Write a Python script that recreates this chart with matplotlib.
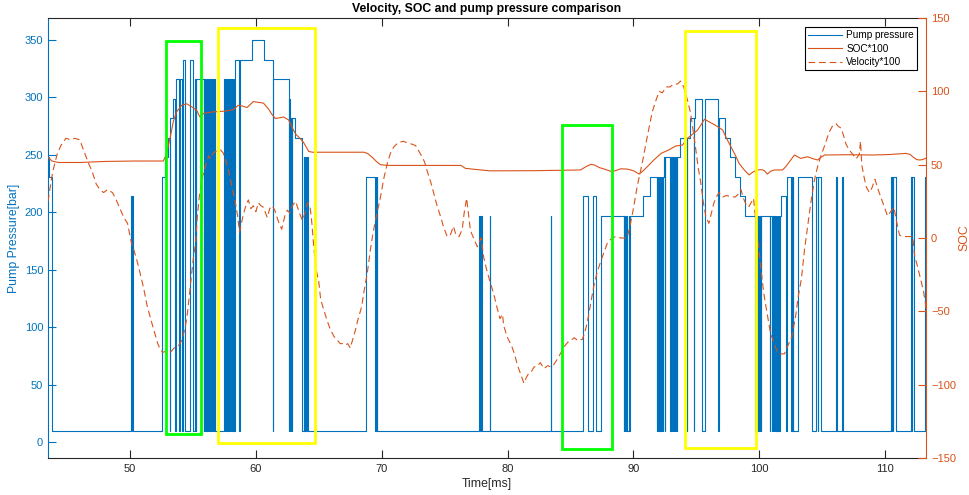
import matplotlib.pyplot as plt
from matplotlib.patches import Rectangle

plt.rcParams['font.family'] = ['Liberation Sans', 'DejaVu Sans']

BLUE = '#0072BD'
ORANGE = '#D95319'
DARK = '#262626'

# pump pressure change points (time ms, bar), drawn as a step signal
pump_steps = [
    (43.40, 248), (43.58, 231), (43.78, 10),
    (50.08, 214), (50.14, 10), (50.18, 214), (50.24, 10),
    (52.57, 231), (52.79, 248), (53.05, 265), (53.17, 10), (53.21, 282),
    (53.42, 299), (53.58, 10), (53.66, 316), (53.92, 10), (53.97, 316),
    (54.12, 10), (54.19, 333), (54.40, 10),
    (54.78, 333), (55.02, 10), (55.18, 316), (55.21, 10), (55.27, 316),
    (55.86, 10), (55.90, 316),
    (55.97, 10), (56.02, 316), (56.07, 10), (56.11, 316), (56.16, 10),
    (56.20, 316), (56.25, 10), (56.30, 316), (56.36, 10), (56.41, 316),
    (56.47, 10), (56.52, 316), (56.58, 10), (56.63, 316), (56.70, 10),
    (56.74, 316), (56.78, 10),
    (57.48, 316), (57.53, 10), (57.57, 316), (57.62, 10), (57.66, 316),
    (57.71, 10), (57.76, 316), (57.81, 10), (57.86, 316), (57.91, 10),
    (57.96, 316), (58.01, 10), (58.06, 316), (58.11, 10), (58.16, 316),
    (58.21, 10), (58.25, 316), (58.30, 10), (58.34, 316),
    (58.37, 333), (58.68, 10), (58.71, 333), (59.68, 350), (60.61, 333),
    (61.33, 10), (61.36, 316),
    (62.60, 10), (62.62, 299), (62.73, 10), (62.76, 282), (62.86, 10),
    (62.89, 282), (63.13, 265), (63.66, 10), (63.80, 248), (63.84, 10),
    (63.87, 248), (63.92, 10), (63.95, 248), (64.00, 10), (64.03, 248),
    (64.11, 10),
    (68.76, 231), (69.48, 10), (69.52, 231), (69.56, 10), (69.59, 231),
    (69.63, 10),
    (77.77, 197), (77.82, 10), (77.86, 197), (77.93, 10), (78.58, 197),
    (78.61, 10), (83.46, 197), (83.49, 10),
    (86.01, 214), (86.38, 10), (86.78, 214), (86.99, 10),
    (87.40, 197), (89.22, 10), (89.26, 197), (89.31, 10), (89.35, 197),
    (89.40, 10), (89.44, 197), (89.50, 10), (89.63, 197), (89.67, 10),
    (89.74, 197),
    (90.80, 214), (91.33, 231), (91.86, 10), (91.90, 231), (91.95, 10),
    (91.99, 231), (92.04, 10), (92.09, 231), (92.14, 10), (92.18, 231),
    (92.23, 10), (92.27, 231), (92.32, 10), (92.36, 231), (92.40, 248),
    (92.52, 10), (92.55, 248),
    (92.93, 10), (92.97, 248), (93.02, 10), (93.06, 248), (93.11, 10),
    (93.15, 248), (93.20, 10), (93.24, 248), (93.29, 10), (93.33, 248),
    (93.38, 10), (93.42, 248), (93.46, 10), (93.49, 248),
    (93.71, 265), (94.26, 10), (94.29, 265), (94.48, 282), (94.78, 10),
    (94.82, 282), (94.91, 299), (95.44, 10), (95.71, 299), (96.74, 10),
    (96.78, 282), (97.30, 265), (97.70, 248), (98.09, 231), (98.49, 214),
    (98.89, 197),
    (99.67, 10), (99.71, 197), (99.76, 10), (99.80, 197), (99.85, 10),
    (99.89, 197), (99.94, 10), (99.98, 197), (100.03, 10), (100.07, 197),
    (100.12, 10), (100.16, 197),
    (100.84, 10), (100.87, 197), (100.98, 10), (101.02, 197), (101.07, 10),
    (101.11, 197), (101.16, 10), (101.20, 197), (101.25, 10), (101.29, 197),
    (101.34, 10), (101.38, 197), (101.43, 10), (101.47, 197), (101.52, 10),
    (101.56, 197), (101.61, 10), (101.65, 197),
    (101.77, 214), (102.16, 10), (102.21, 231), (102.56, 10), (102.59, 231),
    (102.64, 10), (102.67, 231), (102.70, 10),
    (103.10, 231), (104.16, 10), (104.52, 231), (104.67, 10), (104.70, 231),
    (104.90, 10),
    (106.12, 231), (106.15, 10), (106.60, 231), (106.63, 10),
    (110.50, 231), (110.54, 10), (110.57, 231), (110.63, 10), (110.67, 231),
    (110.90, 10),
    (112.10, 231), (112.14, 10), (112.17, 231), (112.34, 10),
    (113.15, 231), (113.18, 10), (113.20, 231), (113.23, 10), (113.25, 231),
]

# SOC*100 (time ms, value)
soc_points = [
    (43.48, 55), (43.8, 52.5), (44.3, 51.5), (46.0, 51.5), (48.0, 52.2),
    (50.3, 52.5), (52.65, 52.5), (52.9, 57.5), (53.2, 69), (53.45, 80),
    (53.7, 86), (54.1, 90.5), (54.5, 91.5), (54.9, 89.5), (55.3, 87),
    (55.55, 82.5), (55.85, 85), (56.6, 86), (57.5, 86.5), (58.2, 87.5),
    (58.6, 90.5), (58.9, 90), (59.3, 89), (59.8, 93), (60.2, 92.5),
    (60.6, 92), (61.0, 88), (61.3, 84), (61.55, 81.5), (61.9, 82),
    (62.2, 82.5), (62.6, 80.5), (62.9, 75), (63.15, 71), (63.5, 68),
    (63.8, 65), (64.2, 59), (64.5, 58.5), (66.0, 58.5), (68.6, 58.5),
    (68.9, 57.5), (69.25, 55), (69.6, 52), (69.9, 50), (70.5, 49.5),
    (73.0, 49.5), (76.3, 49.5), (76.65, 47.5), (77.2, 47), (77.9, 46.4),
    (78.6, 45.8), (82.0, 45.9), (85.8, 46.4), (86.2, 48.5), (86.6, 50.2),
    (86.9, 49.8), (87.3, 48), (87.7, 47), (88.3, 45.2), (88.7, 46.3),
    (89.0, 47.2), (89.5, 47), (89.8, 46.4), (90.1, 45.5), (90.45, 43.6),
    (90.8, 46), (91.1, 48.6), (91.6, 53), (92.2, 57.7), (92.8, 60),
    (93.35, 62.7), (93.9, 63.4), (94.3, 68), (94.8, 71.4), (95.1, 73.6),
    (95.4, 77.5), (95.65, 81), (96.0, 79.3), (96.4, 77.5), (96.7, 75.9),
    (97.1, 73.6), (97.4, 68), (97.75, 62.3), (98.1, 56.5), (98.4, 50.9),
    (98.8, 46.5), (99.2, 43), (99.5, 45), (99.85, 46.4), (100.2, 46.6),
    (100.4, 46), (100.65, 43.6), (100.9, 45.5), (101.2, 46.4),
    (101.85, 46.4), (102.1, 48.5), (102.4, 52), (102.8, 56.6), (103.3, 54.3),
    (103.85, 55.4), (104.3, 54), (104.65, 53.2), (104.9, 55), (105.2, 56.6),
    (107.0, 56.8), (109.0, 56.6), (110.3, 56.9), (111.0, 57.3),
    (111.65, 57.7), (112.0, 57), (112.2, 55.4), (112.5, 53.5),
    (112.75, 53.2), (113.0, 53.5), (113.26, 54.5),
]

# Velocity*100 (time ms, value)
velocity_points = [
    (43.48, 25), (43.62, 33), (43.85, 45), (44.2, 57), (44.5, 63),
    (44.9, 68), (45.3, 67), (45.6, 68), (46.0, 67), (46.3, 60),
    (46.7, 51), (47.0, 45), (47.3, 37), (47.6, 33), (47.9, 31),
    (48.2, 33), (48.6, 31), (48.9, 26), (49.2, 20), (49.5, 14),
    (49.8, 10), (50.1, -3), (50.3, -8), (50.6, -17), (50.8, -24),
    (51.1, -35), (51.35, -46), (51.6, -54), (51.9, -63), (52.2, -72),
    (52.4, -76), (52.6, -78), (52.9, -77), (53.2, -78), (53.5, -75),
    (53.8, -74), (54.1, -70), (54.2, -67), (54.4, -60), (54.55, -52),
    (54.75, -36), (54.9, -24), (55.05, -12), (55.2, -4), (55.35, 15),
    (55.5, 28), (55.7, 40), (55.9, 46), (56.1, 52), (56.25, 56),
    (56.4, 54), (56.6, 58), (56.8, 59), (57.0, 60), (57.2, 60),
    (57.4, 58), (57.6, 53), (57.85, 45), (58.1, 35), (58.35, 25),
    (58.55, 15), (58.7, 4), (58.8, 8), (59.0, 16), (59.2, 22),
    (59.4, 26), (59.6, 20), (59.8, 22), (60.0, 18), (60.2, 24),
    (60.4, 22), (60.6, 21), (60.9, 14), (61.1, 20), (61.3, 22),
    (61.5, 19), (61.8, 11), (62.05, 6), (62.3, 15), (62.5, 19),
    (62.7, 17), (62.9, 22), (63.15, 25), (63.35, 20), (63.55, 15),
    (63.7, 12), (63.9, 17), (64.1, 24), (64.3, 22), (64.45, 10),
    (64.6, -6), (64.8, -22), (65.0, -30), (65.15, -42), (65.4, -49),
    (65.65, -56), (65.9, -62), (66.2, -67), (66.5, -70), (66.7, -72),
    (66.9, -72), (67.1, -73), (67.3, -72), (67.5, -75), (67.7, -69),
    (67.9, -63), (68.1, -56), (68.4, -47), (68.6, -36), (68.85, -24),
    (69.1, -8), (69.3, 3), (69.6, 16), (69.9, 28), (70.2, 42),
    (70.45, 51), (70.7, 58), (70.95, 62), (71.3, 65), (71.7, 66),
    (72.0, 65), (72.4, 64), (72.7, 63), (72.9, 60), (73.1, 57),
    (73.4, 52), (73.6, 46), (73.9, 38), (74.15, 30), (74.4, 22),
    (74.7, 14), (74.9, 8), (75.2, 1), (75.45, 2), (75.7, 8),
    (75.9, 2), (76.15, 1), (76.4, 6), (76.55, 17), (76.75, 27),
    (76.9, 16), (77.05, 5), (77.3, 0), (77.6, -6), (77.9, 0),
    (78.1, -13), (78.35, -22), (78.65, -31), (78.9, -38), (79.15, -47),
    (79.4, -55), (79.6, -52), (79.7, -60), (80.0, -68), (80.3, -73),
    (80.55, -79), (80.8, -87), (81.05, -93), (81.3, -99), (81.5, -95),
    (81.7, -92), (81.9, -91), (82.1, -88), (82.4, -87), (82.6, -85),
    (82.9, -89), (83.2, -87), (83.45, -88), (83.7, -86), (84.0, -82),
    (84.25, -78), (84.5, -74), (84.8, -71), (85.0, -70), (85.3, -68),
    (85.6, -70), (85.95, -69), (86.15, -64), (86.35, -57), (86.6, -45),
    (86.85, -33), (87.1, -24), (87.4, -16), (87.65, -10), (87.95, -3),
    (88.3, 0), (88.6, 1), (89.0, 0), (89.5, 0), (89.75, 9),
    (90.0, 20), (90.3, 35), (90.7, 51), (91.1, 69), (91.5, 86),
    (91.8, 94), (92.05, 100), (92.3, 99), (92.6, 103), (92.9, 103),
    (93.2, 105), (93.5, 105), (93.75, 107), (94.0, 103), (94.3, 94),
    (94.55, 85), (94.8, 70), (94.95, 61), (95.15, 48), (95.35, 38),
    (95.55, 25), (95.75, 15), (96.0, 10), (96.2, 17), (96.4, 24),
    (96.6, 28), (96.8, 31), (97.1, 28), (97.4, 29), (97.8, 28),
    (98.1, 28), (98.35, 30), (98.55, 33), (98.75, 27), (98.95, 23),
    (99.15, 21), (99.35, 24), (99.55, 27), (99.7, 14), (99.9, -2),
    (100.1, -18), (100.35, -37), (100.6, -50), (100.9, -65), (101.2, -72),
    (101.45, -78), (101.7, -79), (102.0, -79), (102.3, -73), (102.6, -67),
    (102.9, -53), (103.1, -40), (103.35, -28), (103.6, -8), (103.85, 8),
    (104.1, 24), (104.4, 40), (104.65, 49), (104.9, 56), (105.2, 63),
    (105.55, 72), (105.8, 76), (106.1, 78), (106.3, 76), (106.5, 75),
    (106.7, 70), (106.9, 64), (107.15, 60), (107.45, 57), (107.7, 54),
    (107.95, 57), (108.05, 66), (108.15, 50), (108.3, 43), (108.5, 35),
    (108.75, 31), (108.95, 34), (109.2, 40), (109.45, 33), (109.7, 27),
    (109.95, 21), (110.2, 15), (110.45, 18), (110.7, 21), (110.95, 10),
    (111.15, 2), (111.4, 1), (111.8, 1), (112.2, 1), (112.35, -12),
    (112.6, -20), (112.85, -29), (113.05, -36), (113.2, -44), (113.26, -49),
]

# highlight boxes: time from, time to, bar from, bar to, colour
boxes = [
    (52.89, 55.63, 7.0, 348.8, '#00FF00'),
    (56.95, 64.67, -1.0, 360.3, '#FFFF00'),
    (84.35, 88.28, -5.8, 276.2, '#00FF00'),
    (94.08, 99.72, -4.7, 357.4, '#FFFF00'),
]

x_ticks = [50, 60, 70, 80, 90, 100, 110]
left_ticks = [0, 50, 100, 150, 200, 250, 300, 350]
right_ticks = [-150, -100, -50, 0, 50, 100, 150]


def make_figure():
    fig = plt.figure(figsize=(9.7, 4.95), dpi=100)
    ax = fig.add_axes([0.0495, 0.0747, 0.9052, 0.8889])
    ax2 = ax.twinx()

    t, p = zip(*pump_steps)
    h1, = ax.plot(t, p, drawstyle='steps-post', color=BLUE, lw=0.8,
                  label='Pump pressure')
    st, sv = zip(*soc_points)
    h2, = ax2.plot(st, sv, color=ORANGE, lw=0.8, label='SOC*100')
    vt, vv = zip(*velocity_points)
    h3, = ax2.plot(vt, vv, '--', color=ORANGE, lw=0.8, dashes=(6, 3.5),
                   label='Velocity*100')

    for t0, t1, p0, p1, c in boxes:
        ax2.add_patch(Rectangle((t0, p0), t1 - t0, p1 - p0,
                                transform=ax.transData, fill=False,
                                edgecolor=c, lw=2.0, zorder=10,
                                clip_on=False))

    ax.set_xlim(43.48, 113.26)
    ax.set_ylim(-13.7, 369.1)
    ax2.set_ylim(-150, 150)
    ax.set_xticks(x_ticks)
    ax.set_yticks(left_ticks)
    ax2.set_yticks(right_ticks)

    ax.tick_params(axis='x', colors=DARK, direction='in', top=True,
                   length=5.5, labelsize=8, pad=4)
    ax.tick_params(axis='y', colors=BLUE, direction='in', length=5.5,
                   labelsize=8, pad=3.5)
    ax2.tick_params(axis='y', colors=ORANGE, direction='in', length=5.5,
                    labelsize=8, pad=3.5)

    ax.spines['left'].set_color(BLUE)
    ax.spines['top'].set_color(DARK)
    ax.spines['bottom'].set_color(DARK)
    ax.spines['right'].set_visible(False)
    for side in ['left', 'top', 'bottom']:
        ax2.spines[side].set_visible(False)
    ax2.spines['right'].set_color(ORANGE)
    for sp in list(ax.spines.values()) + list(ax2.spines.values()):
        sp.set_linewidth(0.8)

    ax.set_title('Velocity, SOC and pump pressure comparison', fontsize=8.8,
                 fontweight='bold', pad=4)
    ax.set_xlabel('Time[ms]', color=DARK, fontsize=8.8, labelpad=3.5)
    ax.set_ylabel('Pump Pressure[bar]', color=BLUE, fontsize=8.8, labelpad=3)
    ax2.set_ylabel('SOC', color=ORANGE, fontsize=8.8, labelpad=2)

    leg = ax2.legend([h1, h2, h3], ['Pump pressure', 'SOC*100', 'Velocity*100'],
                     loc='upper right', bbox_to_anchor=(917 / 970, 468 / 495),
                     bbox_transform=fig.transFigure, borderaxespad=0,
                     fontsize=7.2, fancybox=False, edgecolor='black',
                     framealpha=1, handlelength=3.4, handletextpad=0.4,
                     borderpad=0.3, labelspacing=0.35)
    leg.get_frame().set_linewidth(0.8)
    leg.set_zorder(20)

    fig.savefig('out.png', dpi=100)


def main():
    make_figure()


if __name__ == "__main__":
    main()
